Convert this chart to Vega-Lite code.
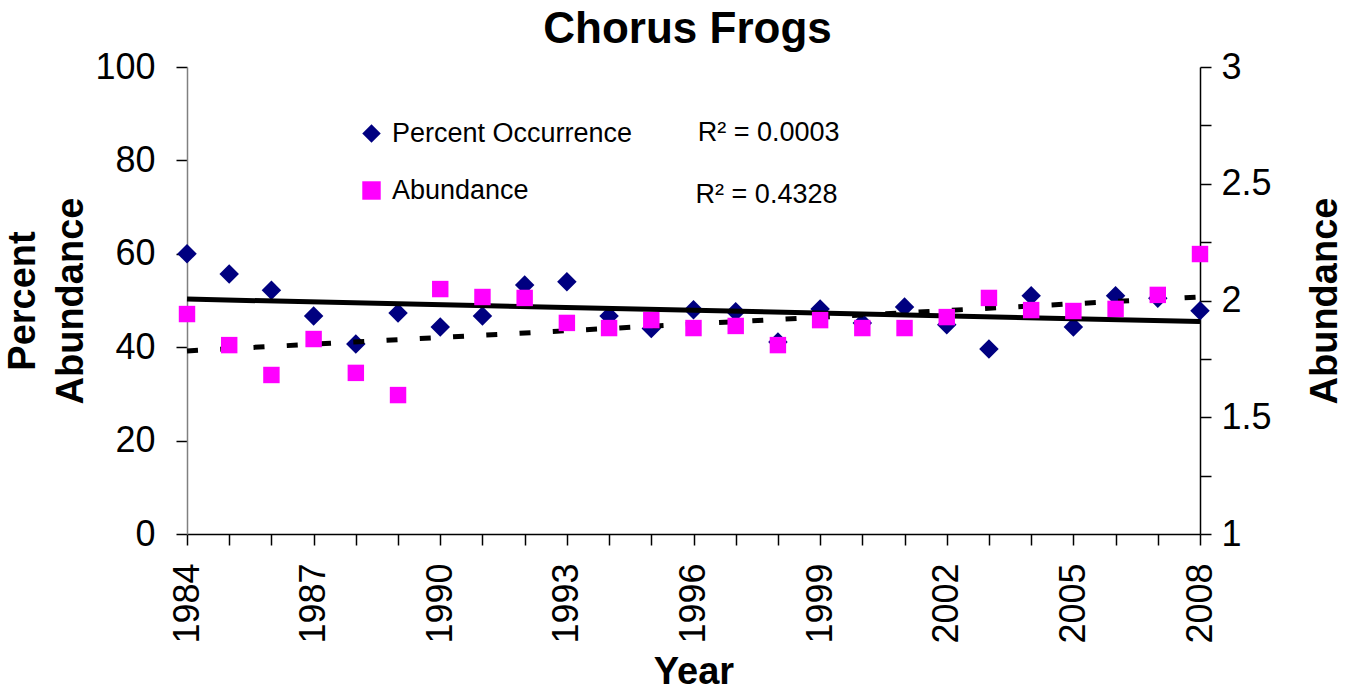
{
  "$schema": "https://vega.github.io/schema/vega-lite/v6.json",
  "width": 1013,
  "height": 467,
  "autosize": "none",
  "padding": {"left": 187, "top": 67, "right": 152, "bottom": 159},
  "background": "white",
  "title": {"text": "Chorus Frogs", "font": "Liberation Sans", "fontSize": 44, "fontWeight": "bold", "color": "black", "anchor": "middle", "offset": -3, "dx": -6},
  "config": {
    "view": {"stroke": null},
    "font": "Liberation Sans",
    "axis": {"grid": false, "labelFont": "Liberation Sans", "titleFont": "Liberation Sans", "labelColor": "black", "titleColor": "black", "tickColor": "black", "domainColor": "black", "labelFontSize": 36, "titleFontSize": 38, "titleFontWeight": "bold", "tickSize": 11, "domainWidth": 1.5, "tickWidth": 1.5},
    "legend": {"labelFont": "Liberation Sans", "labelFontSize": 27, "labelColor": "black", "labelLimit": 500}
  },
  "datasets": {
    "points": [
      {"year": 1984, "series": "Percent Occurrence", "value": 60.0},
      {"year": 1985, "series": "Percent Occurrence", "value": 55.7},
      {"year": 1986, "series": "Percent Occurrence", "value": 52.2},
      {"year": 1987, "series": "Percent Occurrence", "value": 46.7},
      {"year": 1988, "series": "Percent Occurrence", "value": 40.7},
      {"year": 1989, "series": "Percent Occurrence", "value": 47.3},
      {"year": 1990, "series": "Percent Occurrence", "value": 44.3},
      {"year": 1991, "series": "Percent Occurrence", "value": 46.7},
      {"year": 1992, "series": "Percent Occurrence", "value": 53.3},
      {"year": 1993, "series": "Percent Occurrence", "value": 54.0},
      {"year": 1994, "series": "Percent Occurrence", "value": 46.7},
      {"year": 1995, "series": "Percent Occurrence", "value": 44.0},
      {"year": 1996, "series": "Percent Occurrence", "value": 48.0},
      {"year": 1997, "series": "Percent Occurrence", "value": 47.6},
      {"year": 1998, "series": "Percent Occurrence", "value": 41.1},
      {"year": 1999, "series": "Percent Occurrence", "value": 48.2},
      {"year": 2000, "series": "Percent Occurrence", "value": 45.2},
      {"year": 2001, "series": "Percent Occurrence", "value": 48.6},
      {"year": 2002, "series": "Percent Occurrence", "value": 44.8},
      {"year": 2003, "series": "Percent Occurrence", "value": 39.6},
      {"year": 2004, "series": "Percent Occurrence", "value": 51.0},
      {"year": 2005, "series": "Percent Occurrence", "value": 44.3},
      {"year": 2006, "series": "Percent Occurrence", "value": 51.0},
      {"year": 2007, "series": "Percent Occurrence", "value": 50.5},
      {"year": 2008, "series": "Percent Occurrence", "value": 47.8},
      {"year": 1984, "series": "Abundance", "value": 1.942},
      {"year": 1985, "series": "Abundance", "value": 1.809},
      {"year": 1986, "series": "Abundance", "value": 1.681},
      {"year": 1987, "series": "Abundance", "value": 1.835},
      {"year": 1988, "series": "Abundance", "value": 1.690},
      {"year": 1989, "series": "Abundance", "value": 1.595},
      {"year": 1990, "series": "Abundance", "value": 2.049},
      {"year": 1991, "series": "Abundance", "value": 2.015},
      {"year": 1992, "series": "Abundance", "value": 2.011},
      {"year": 1993, "series": "Abundance", "value": 1.904},
      {"year": 1994, "series": "Abundance", "value": 1.882},
      {"year": 1995, "series": "Abundance", "value": 1.916},
      {"year": 1996, "series": "Abundance", "value": 1.882},
      {"year": 1997, "series": "Abundance", "value": 1.891},
      {"year": 1998, "series": "Abundance", "value": 1.809},
      {"year": 1999, "series": "Abundance", "value": 1.916},
      {"year": 2000, "series": "Abundance", "value": 1.882},
      {"year": 2001, "series": "Abundance", "value": 1.882},
      {"year": 2002, "series": "Abundance", "value": 1.929},
      {"year": 2003, "series": "Abundance", "value": 2.011},
      {"year": 2004, "series": "Abundance", "value": 1.959},
      {"year": 2005, "series": "Abundance", "value": 1.955},
      {"year": 2006, "series": "Abundance", "value": 1.964},
      {"year": 2007, "series": "Abundance", "value": 2.024},
      {"year": 2008, "series": "Abundance", "value": 2.199}
    ],
    "trend": [
      {"year": 1984, "occ": 50.3, "abund": 1.784},
      {"year": 2008, "occ": 45.5, "abund": 2.015}
    ],
    "notes": [
      {"year": 1996.1, "value": 85.9, "label": "R² = 0.0003"},
      {"year": 1996.05, "value": 72.6, "label": "R² = 0.4328"}
    ]
  },
  "encoding": {
    "x": {
      "field": "year", "type": "quantitative",
      "scale": {"domain": [1984, 2008], "nice": false, "zero": false},
      "axis": {
        "title": "Year",
        "values": [1984,1985,1986,1987,1988,1989,1990,1991,1992,1993,1994,1995,1996,1997,1998,1999,2000,2001,2002,2003,2004,2005,2006,2007,2008],
        "format": "d",
        "labelExpr": "(datum.value - 1984) % 3 == 0 ? datum.label : ''",
        "labelAngle": 270,
        "labelPadding": 18,
        "titlePadding": 10,
        "labelOverlap": false
      }
    }
  },
  "layer": [
    {
      "layer": [
        {
          "data": {"name": "points"},
          "transform": [{"filter": "datum.series == 'Percent Occurrence'"}],
          "mark": {"type": "point", "filled": true, "opacity": 1, "size": 380},
          "encoding": {
            "y": {
              "field": "value", "type": "quantitative",
              "scale": {"domain": [0, 100], "nice": false},
              "axis": {"orient": "left", "title": ["Percent", "Abundance"], "values": [0, 20, 40, 60, 80, 100], "labelPadding": 21, "titlePadding": 4, "titleLineHeight": 48, "domainColor": "#808080"}
            },
            "color": {"field": "series", "type": "nominal", "scale": {"domain": ["Percent Occurrence", "Abundance"], "range": ["#000080", "#FF00FF"]}, "legend": {"title": null, "orient": "none", "legendX": 171, "legendY": 53, "symbolSize": 340, "rowPadding": 29, "labelOffset": 7, "symbolOpacity": 1}},
            "shape": {"field": "series", "type": "nominal", "scale": {"domain": ["Percent Occurrence", "Abundance"], "range": ["diamond", "square"]}, "legend": {"title": null, "orient": "none", "legendX": 171, "legendY": 53, "symbolSize": 340, "rowPadding": 29, "labelOffset": 7, "symbolOpacity": 1}}
          }
        },
        {
          "data": {"name": "trend"},
          "mark": {"type": "line", "color": "black", "strokeWidth": 5},
          "encoding": {"y": {"field": "occ", "type": "quantitative"}}
        },
        {
          "data": {"name": "notes"},
          "mark": {"type": "text", "align": "left", "baseline": "middle", "fontSize": 27, "font": "Liberation Sans", "color": "black"},
          "encoding": {"y": {"field": "value", "type": "quantitative"}, "text": {"field": "label"}}
        }
      ]
    },
    {
      "layer": [
        {
          "data": {"name": "trend"},
          "mark": {"type": "line", "color": "black", "strokeWidth": 5, "strokeDash": [11, 22.3]},
          "encoding": {"y": {"field": "abund", "type": "quantitative", "scale": {"domain": [1, 3], "nice": false, "zero": false},
            "axis": {"orient": "right", "title": "Abundance", "values": [1, 1.25, 1.5, 1.75, 2, 2.25, 2.5, 2.75, 3], "format": "~g", "labelExpr": "(datum.value * 2) % 1 == 0 ? datum.label : ''", "labelPadding": 10, "titlePadding": 73, "titleAngle": 270, "labelOverlap": false}}}
        },
        {
          "data": {"name": "points"},
          "transform": [{"filter": "datum.series == 'Abundance'"}],
          "mark": {"type": "point", "filled": true, "opacity": 1, "size": 270},
          "encoding": {
            "y": {"field": "value", "type": "quantitative"},
            "color": {"field": "series", "type": "nominal", "scale": {"domain": ["Percent Occurrence", "Abundance"], "range": ["#000080", "#FF00FF"]}, "legend": {"title": null, "orient": "none", "legendX": 171, "legendY": 53, "symbolSize": 340, "rowPadding": 29, "labelOffset": 7, "symbolOpacity": 1}},
            "shape": {"field": "series", "type": "nominal", "scale": {"domain": ["Percent Occurrence", "Abundance"], "range": ["diamond", "square"]}, "legend": {"title": null, "orient": "none", "legendX": 171, "legendY": 53, "symbolSize": 340, "rowPadding": 29, "labelOffset": 7, "symbolOpacity": 1}}
          }
        }
      ]
    }
  ],
  "resolve": {"scale": {"y": "independent"}}
}
